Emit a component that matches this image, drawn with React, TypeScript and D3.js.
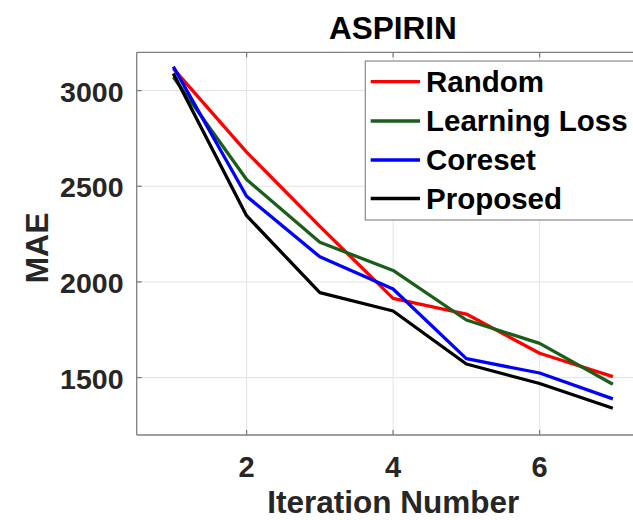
import React from "react";
import * as d3 from "d3";

const iterations = [1, 2, 3, 4, 5, 6, 7];
const seriesNames = ["Random", "Learning Loss", "Coreset", "Proposed"];
const seriesColors = ["#ff0000", "#1b5e1b", "#0000ff", "#000000"];
const randomMAE = [3115, 2678, 2290, 1914, 1832, 1627, 1505];
const learningLossMAE = [3071, 2535, 2207, 2060, 1801, 1679, 1465];
const coresetMAE = [3125, 2448, 2131, 1963, 1599, 1524, 1389];
const proposedMAE = [3089, 2346, 1944, 1848, 1571, 1469, 1340];
const xTicks = [2, 4, 6];
const yTicks = [1500, 2000, 2500, 3000];

const W = 633;
const H = 520;
const left = 136.7;
const right = 649.5;
const top = 52.3;
const bottom = 435;
const font = "'Liberation Sans', Arial, Helvetica, sans-serif";

export default function App() {
  const x = d3.scaleLinear().domain([0.5, 7.5]).range([left, right]);
  const y = d3.scaleLinear().domain([1200, 3200]).range([bottom, top]);
  const all = [randomMAE, learningLossMAE, coresetMAE, proposedMAE];
  const line = d3
    .line<number>()
    .x((_, i) => x(iterations[i]))
    .y((d) => y(d));
  const axisColor = "#7f7f7f";
  const gridColor = "#e3e3e3";
  const textColor = "#262626";
  const legY = [81.7, 121, 160, 198.5];
  return (
    <svg
      width={W}
      height={H}
      style={{ position: "absolute", left: 0, top: 0, background: "#fff" }}
    >
      <defs>
        <clipPath id="plot">
          <rect x={left} y={top} width={right - left} height={bottom - top} />
        </clipPath>
      </defs>
      <rect x={0} y={0} width={W} height={H} fill="#fff" />
      {xTicks.map((t) => (
        <line key={"gx" + t} x1={x(t)} x2={x(t)} y1={top} y2={bottom} stroke={gridColor} strokeWidth={1} />
      ))}
      {yTicks.map((t) => (
        <line key={"gy" + t} x1={left} x2={right} y1={y(t)} y2={y(t)} stroke={gridColor} strokeWidth={1} />
      ))}
      <line x1={left} x2={right} y1={top} y2={top} stroke={axisColor} strokeWidth={1.3} />
      <line x1={left} x2={right} y1={bottom} y2={bottom} stroke={axisColor} strokeWidth={1.3} />
      <line x1={left} x2={left} y1={top} y2={bottom} stroke={axisColor} strokeWidth={1.3} />
      <line x1={right} x2={right} y1={top} y2={bottom} stroke={axisColor} strokeWidth={1.3} />
      {xTicks.map((t) => (
        <g key={"tx" + t}>
          <line x1={x(t)} x2={x(t)} y1={bottom} y2={bottom - 5} stroke={axisColor} strokeWidth={1.3} />
          <line x1={x(t)} x2={x(t)} y1={top} y2={top + 5} stroke={axisColor} strokeWidth={1.3} />
          <text
            x={x(t)}
            y={476.5}
            textAnchor="middle"
            fontFamily={font}
            fontWeight="bold"
            fontSize={29}
            fill={textColor}
          >
            {t}
          </text>
        </g>
      ))}
      {yTicks.map((t) => (
        <g key={"ty" + t}>
          <line x1={left} x2={left + 5} y1={y(t)} y2={y(t)} stroke={axisColor} strokeWidth={1.3} />
          <text
            x={123.5}
            y={y(t) + 11}
            textAnchor="end"
            fontFamily={font}
            fontWeight="bold"
            fontSize={28.5}
            fill={textColor}
          >
            {t}
          </text>
        </g>
      ))}
      <g clipPath="url(#plot)">
        {all.map((s, i) => (
          <path
            key={seriesNames[i]}
            d={line(s) || ""}
            fill="none"
            stroke={seriesColors[i]}
            strokeWidth={3.3}
            strokeLinejoin="round"
          />
        ))}
      </g>
      <text
        x={392.8}
        y={38.5}
        textAnchor="middle"
        fontFamily={font}
        fontWeight="bold"
        fontSize={31.5}
        fill="#000"
      >
        ASPIRIN
      </text>
      <text
        x={393.3}
        y={513}
        textAnchor="middle"
        fontFamily={font}
        fontWeight="bold"
        fontSize={31.5}
        fill={textColor}
      >
        Iteration Number
      </text>
      <text
        transform={`translate(48,248) rotate(-90)`}
        textAnchor="middle"
        fontFamily={font}
        fontWeight="bold"
        fontSize={32}
        fill={textColor}
      >
        MAE
      </text>
      <rect x={365.3} y={61} width={278} height={159} fill="#fff" stroke="#8a8a8a" strokeWidth={1.2} />
      {seriesNames.map((n, i) => (
        <g key={"leg" + n}>
          <line x1={370.7} x2={420} y1={legY[i]} y2={legY[i]} stroke={seriesColors[i]} strokeWidth={3.3} />
          <text
            x={426}
            y={legY[i] + 10.3}
            fontFamily={font}
            fontWeight="bold"
            fontSize={29.5}
            fill="#000"
          >
            {n}
          </text>
        </g>
      ))}
    </svg>
  );
}
